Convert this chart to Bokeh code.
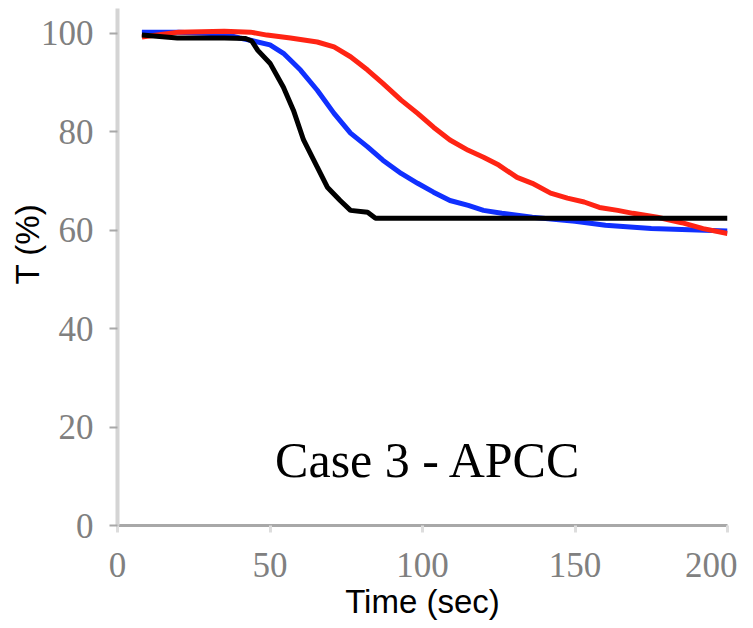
import math
from bokeh.plotting import figure
from bokeh.models import Range1d, FixedTicker
from bokeh.core.properties import value
from bokeh.embed import file_html
from bokeh.resources import INLINE

# ---- data ----
red_x = [8, 20, 35, 43.6, 49, 56.7, 65.5, 71, 76.4, 82, 87, 93, 98.4, 103.6, 109, 115,
         120, 125, 131, 136, 142, 147.5, 153, 158, 164, 169, 177, 185, 192, 200]
red_y = [99.2, 100.2, 100.4, 100.2, 99.6, 99.0, 98.2, 97.2, 95.2, 92.5, 89.8, 86.4, 83.7,
         80.9, 78.3, 76.2, 74.8, 73.2, 70.7, 69.5, 67.5, 66.5, 65.7, 64.6, 64.0, 63.4,
         62.6, 61.5, 60.3, 59.3]

blue_x = [8, 20, 35, 40, 44, 50, 54.4, 60, 65.5, 71, 76.4, 82, 87, 93, 98.4, 103.6, 109,
          115, 120, 126, 136, 150, 160, 175, 200]
blue_y = [100.2, 100.2, 99.8, 99.0, 98.5, 97.6, 95.9, 92.5, 88.4, 83.7, 79.7, 76.9, 74.2,
          71.5, 69.5, 67.7, 66.0, 65.0, 64.0, 63.4, 62.6, 61.8, 61.0, 60.3, 59.8]

black_x = [8, 19.6, 35, 42, 44, 46, 50, 54.4, 57.7, 61, 65.5, 68.8, 73, 76.4, 82, 84.6,
           100, 150, 200]
black_y = [99.6, 99.0, 99.0, 98.9, 98.4, 96.5, 93.9, 89.0, 84.3, 78.3, 72.8, 68.7, 66.0,
           64.0, 63.6, 62.4, 62.4, 62.4, 62.4]

x_ticks = [0, 50, 100, 150, 200]
y_ticks = [0, 20, 40, 60, 80, 100]
x_label = "Time (sec)"
y_label = "T (%)"
case_text = "Case 3 - APCC"

p = figure(width=737, height=628, output_backend="svg", toolbar_location=None,
           x_range=Range1d(0, 200), y_range=Range1d(0, 105),
           min_border_left=117, min_border_right=10, min_border_top=8,
           min_border_bottom=103)
p.background_fill_color = "white"
p.border_fill_color = "white"
p.outline_line_color = None
p.xgrid.visible = False
p.ygrid.visible = False

p.line(blue_x, blue_y, line_color="#1030ff", line_width=5)
p.line(red_x, red_y, line_color="#ff2414", line_width=5)
p.line(black_x, black_y, line_color="black", line_width=5)

p.text(x=[102], y=[13.3], text=[case_text], text_font=value("Liberation Serif"),
       text_font_size="50px", text_align="center", text_baseline="alphabetic",
       text_color="black")

# axes styling
for ax in (p.xaxis[0], p.yaxis[0]):
    ax.major_label_text_font = "Liberation Serif"
    ax.major_label_text_font_size = "35px"
    ax.major_label_text_color = "#808080"
    ax.minor_tick_line_color = None
    ax.major_tick_in = 0

p.xaxis.ticker = FixedTicker(ticks=x_ticks)
p.yaxis.ticker = FixedTicker(ticks=y_ticks)

p.yaxis.axis_line_color = "#d4d4d4"
p.yaxis.axis_line_width = 4
p.yaxis.major_tick_line_color = "#a8a8a8"
p.yaxis.major_tick_line_width = 2
p.yaxis.major_tick_out = 8
p.yaxis.major_label_standoff = 16

p.xaxis.axis_line_color = "#a8a8a8"
p.xaxis.axis_line_width = 3
p.xaxis.major_tick_line_color = "#dddddd"
p.xaxis.major_tick_line_width = 3
p.xaxis.major_tick_out = 7
p.xaxis.major_label_standoff = 20

p.xaxis.axis_label = x_label
p.xaxis.axis_label_text_font = "Liberation Sans"
p.xaxis.axis_label_text_font_size = "33px"
p.xaxis.axis_label_text_font_style = "normal"
p.xaxis.axis_label_text_color = "black"
p.xaxis.axis_label_standoff = 3

p.yaxis.axis_label = "\u00a0" * 5 + y_label
p.yaxis.axis_label_text_font = "Liberation Sans"
p.yaxis.axis_label_text_font_size = "33px"
p.yaxis.axis_label_text_font_style = "normal"
p.yaxis.axis_label_text_color = "black"
p.yaxis.axis_label_standoff = -8

open("out.html", "w").write(file_html(p, INLINE))
